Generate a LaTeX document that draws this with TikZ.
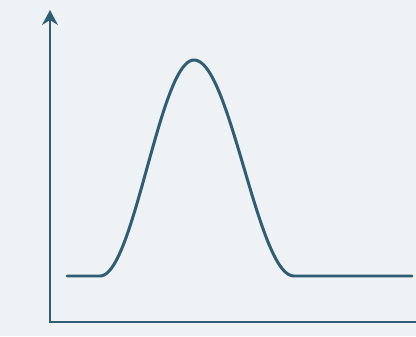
\documentclass[tikz,border=0pt]{standalone}
\usepackage{xcolor}
\usepackage{tikz}
\usetikzlibrary{arrows.meta}
\definecolor{paper}{HTML}{EEF2F4}
\definecolor{ink}{HTML}{2F5D76}

\begin{document}
\begin{tikzpicture}[x=0.02cm,y=0.02cm,
    axis/.style={ink,line width=1.7pt,line join=miter},
    pulse/.style={ink,line width=1.7pt,line join=round,line cap=round}]
  \fill[paper] (0,0) rectangle (416,336);
  \useasboundingbox (0,0) rectangle (416,336);

  \coordinate (ytip) at (50,326);
  \coordinate (origin) at (50,14);
  \coordinate (xend) at (416,14);
  \draw[axis,{Stealth[length=8.5pt,width=9pt]}-] (ytip) -- (origin) -- (xend);

  \coordinate (base) at (67,60);
  \coordinate (rise) at (100,60);
  \coordinate (peak) at (194,276);
  \coordinate (fall) at (294,60);
  \coordinate (tail) at (412,60);
  \draw[pulse] (base) -- (rise)
    -- plot[domain=-94:0,samples=50] ({194+\x},{60+108*(1+cos(\x/94*180))})
    -- plot[domain=0:100,samples=50] ({194+\x},{60+108*(1+cos(\x/100*180))})
    -- (tail);
\end{tikzpicture}
\end{document}
